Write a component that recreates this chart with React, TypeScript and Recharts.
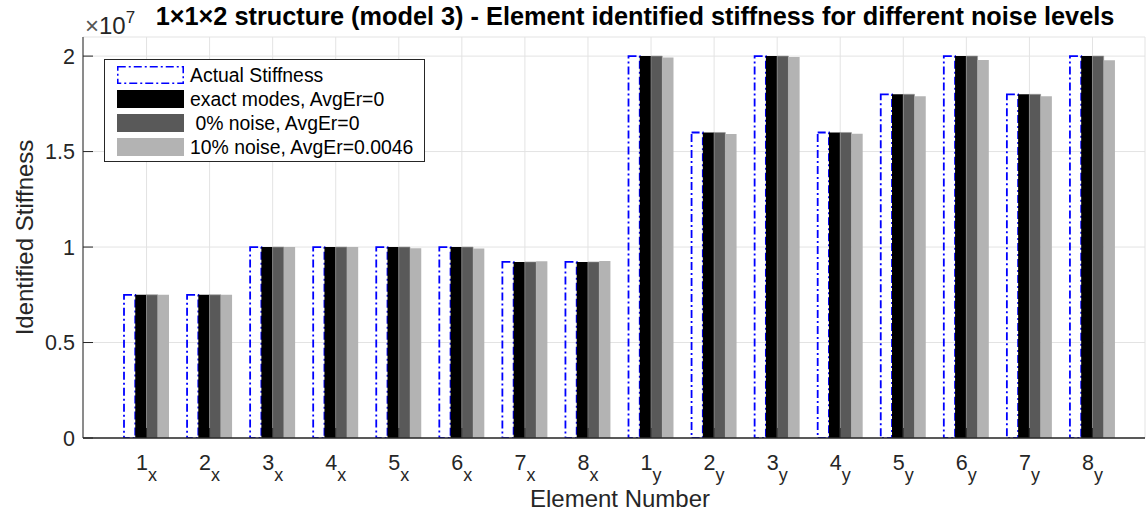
import React from 'react';
import { BarChart, Bar, XAxis, YAxis, CartesianGrid, Legend } from 'recharts';

const elementNumbers = ['1', '2', '3', '4', '5', '6', '7', '8', '1', '2', '3', '4', '5', '6', '7', '8'];
const directions = ['x', 'x', 'x', 'x', 'x', 'x', 'x', 'x', 'y', 'y', 'y', 'y', 'y', 'y', 'y', 'y'];

const actualStiffness = [0.75e7, 0.75e7, 1e7, 1e7, 1e7, 1e7, 0.922e7, 0.922e7, 2e7, 1.6e7, 2e7, 1.6e7, 1.8e7, 2e7, 1.8e7, 2e7];
const exactModes = [0.75e7, 0.75e7, 1e7, 1e7, 1e7, 1e7, 0.922e7, 0.922e7, 2e7, 1.6e7, 2e7, 1.6e7, 1.8e7, 2e7, 1.8e7, 2e7];
const noise0 = [0.75e7, 0.75e7, 1e7, 1e7, 1e7, 1e7, 0.922e7, 0.922e7, 2e7, 1.6e7, 2e7, 1.6e7, 1.8e7, 2e7, 1.8e7, 2e7];
const noise10 = [0.75e7, 0.75e7, 1e7, 1e7, 0.994e7, 0.993e7, 0.926e7, 0.927e7, 1.993e7, 1.592e7, 1.995e7, 1.593e7, 1.79e7, 1.979e7, 1.79e7, 1.978e7];

const yTicks = [0, 0.5e7, 1e7, 1.5e7, 2e7];

const series = [
  { key: 'actual', name: 'Actual Stiffness', color: '#0000ff' },
  { key: 'exact', name: 'exact modes, AvgEr=0', color: '#000000' },
  { key: 'n0', name: ' 0% noise, AvgEr=0', color: '#595959' },
  { key: 'n10', name: '10% noise, AvgEr=0.0046', color: '#b3b3b3' },
];

const data = elementNumbers.map((n, i) => ({
  name: n + directions[i],
  num: n,
  dir: directions[i],
  actual: actualStiffness[i],
  exact: exactModes[i],
  n0: noise0[i],
  n10: noise10[i],
}));

const FONT = '"Liberation Sans", Arial, Helvetica, sans-serif';
const TEXT = '#262626';
const AXIS = '#262626';
const TICK_LEN = 10;
const BAR_W = 11.25;
const X_PAD = { left: 32, right: 21 };
const DASH_DOT = '8 3 2 3';

const fmtY = (v: number) => String(v / 1e7);

const LeftTick = (props: any) => {
  const { x, y, payload } = props;
  return (
    <g>
      <line x1={x} x2={x + TICK_LEN} y1={y} y2={y} stroke={AXIS} />
      <text x={x - 8} y={y} dy={7.5} textAnchor="end" fontSize={21.5} fill={TEXT} fontFamily={FONT}>
        {fmtY(payload.value)}
      </text>
    </g>
  );
};

const RightTick = (props: any) => {
  const { x, y } = props;
  return <line x1={x} x2={x - TICK_LEN} y1={y} y2={y} stroke={AXIS} />;
};

const TopTick = (props: any) => {
  const { x, y } = props;
  return <line x1={x} x2={x} y1={y} y2={y + TICK_LEN} stroke={AXIS} />;
};

const BottomTick = (props: any) => {
  const { x, y, index } = props;
  const d = data[index];
  return (
    <g>
      <line x1={x} x2={x} y1={y} y2={y - TICK_LEN} stroke={AXIS} />
      <text x={x} y={y + 32} textAnchor="middle" fill={TEXT} fontFamily={FONT}>
        <tspan fontSize={21.5}>{d ? d.num : ''}</tspan>
        <tspan fontSize={18} dy={11}>{d ? d.dir : ''}</tspan>
      </text>
    </g>
  );
};

const LegendBox = () => (
  <div
    style={{
      width: 319,
      height: 101,
      border: `1.5px solid ${AXIS}`,
      background: '#fff',
      position: 'relative',
      fontFamily: FONT,
    }}
  >
    {series.map((s, i) => (
      <div key={s.key} style={{ position: 'absolute', left: 11.5, top: 5.5 + i * 24, height: 18, display: 'flex', alignItems: 'center' }}>
        <svg width={67} height={18} style={{ display: 'block' }}>
          {s.key === 'actual' ? (
            <rect x={0.75} y={0.75} width={65.5} height={16.5} fill="none" stroke={s.color} strokeWidth={1.6} strokeDasharray={DASH_DOT} />
          ) : (
            <rect x={0} y={0} width={67} height={18} fill={s.color} />
          )}
        </svg>
        <span style={{ marginLeft: 6.5, fontSize: 19.4, color: '#000', whiteSpace: 'pre', lineHeight: '18px' }}>{s.name}</span>
      </div>
    ))}
  </div>
);

export default function App() {
  return (
    <div style={{ position: 'absolute', left: 0, top: 0, width: 1146, height: 514, background: '#fff' }}>
      <BarChart
        width={1146}
        height={514}
        data={data}
        margin={{ top: 37, right: 1, bottom: 0, left: 0 }}
        barGap={0}
        barSize={BAR_W}
      >
        <CartesianGrid stroke="#e3e3e3" strokeWidth={1} />
        <XAxis
          dataKey="name"
          height={76}
          padding={X_PAD}
          tickSize={0}
          tickMargin={0}
          tickLine={false}
          axisLine={{ stroke: AXIS, strokeWidth: 1.5 }}
          tick={<BottomTick />}
          interval={0}
        />
        <XAxis
          xAxisId="top"
          orientation="top"
          dataKey="name"
          height={0}
          padding={X_PAD}
          tickSize={0}
          tickMargin={0}
          tickLine={false}
          axisLine={{ stroke: AXIS }}
          tick={<TopTick />}
          interval={0}
        />
        <YAxis
          width={83}
          domain={[0, 2.1e7]}
          ticks={yTicks}
          tickSize={0}
          tickMargin={0}
          tickLine={false}
          axisLine={{ stroke: AXIS }}
          tick={<LeftTick />}
          allowDataOverflow
        />
        <YAxis
          yAxisId="right"
          orientation="right"
          width={0}
          domain={[0, 2.1e7]}
          ticks={yTicks}
          tickSize={0}
          tickMargin={0}
          tickLine={false}
          axisLine={{ stroke: AXIS }}
          tick={<RightTick />}
        />
        <Legend
          layout="vertical"
          align="center"
          verticalAlign="middle"
          wrapperStyle={{ left: 104, top: 59, width: 'auto' }}
          content={() => <LegendBox />}
        />
        <Bar
          dataKey="actual"
          name={series[0].name}
          fill="none"
          stroke={series[0].color}
          strokeWidth={1.8}
          strokeDasharray={DASH_DOT}
          isAnimationActive={false}
        />
        <Bar dataKey="exact" name={series[1].name} fill={series[1].color} isAnimationActive={false} />
        <Bar dataKey="n0" name={series[2].name} fill={series[2].color} stroke="#9a9a9a" strokeWidth={0.6} isAnimationActive={false} />
        <Bar dataKey="n10" name={series[3].name} fill={series[3].color} isAnimationActive={false} />
      </BarChart>
      <svg
        width={1146}
        height={514}
        style={{ position: 'absolute', left: 0, top: 0, pointerEvents: 'none' }}
        fontFamily={FONT}
      >
        <text x={635} y={25} textAnchor="middle" fontSize={25.3} fontWeight="bold" fill="#000">
          1×1×2 structure (model 3) - Element identified stiffness for different noise levels
        </text>
        <text x={85} y={34} fontSize={24} fill={TEXT}>
          <tspan fill="#555">×</tspan>
          <tspan>10</tspan>
          <tspan fontSize={17} dy={-11}>7</tspan>
        </text>
        <text x={620} y={507} textAnchor="middle" fontSize={24} fill={TEXT}>
          Element Number
        </text>
        <text transform="translate(33,237.5) rotate(-90)" textAnchor="middle" fontSize={24} fill={TEXT}>
          Identified Stiffness
        </text>
      </svg>
    </div>
  );
}
